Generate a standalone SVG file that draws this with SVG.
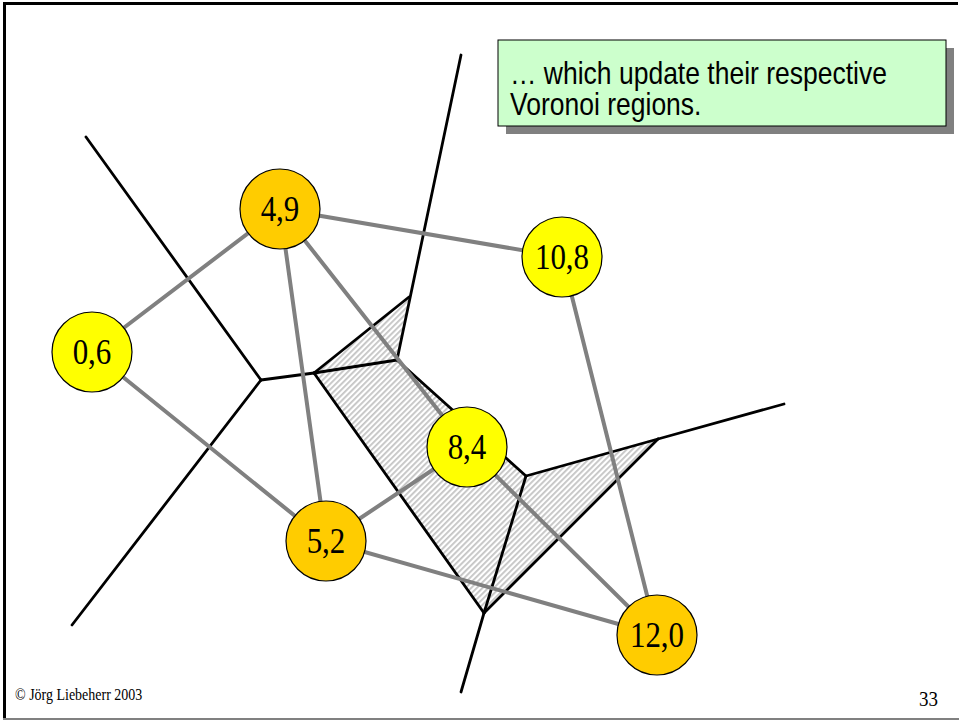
<svg xmlns="http://www.w3.org/2000/svg" width="959" height="720" viewBox="0 0 959 720">
  <defs>
    <pattern id="hatch" width="4" height="4" patternUnits="userSpaceOnUse" patternTransform="rotate(45)">
      <rect width="4" height="4" fill="#ffffff"/>
      <rect width="1.8" height="4" fill="#c4c4c4"/>
    </pattern>
  </defs>
  <style>
    .edge { stroke: #808080; stroke-width: 4; fill: none; stroke-linecap: round; }
    .vor { stroke: #000000; stroke-width: 2.8; fill: none; stroke-linecap: round; stroke-linejoin: round; }
    .site circle { stroke: #000000; stroke-width: 1.2; }
    .yellow { fill: #ffff00; }
    .orange { fill: #ffcc00; }
    .lbl { font-family: "Liberation Serif", "Times New Roman", serif; font-size: 31px; fill: #000000; text-anchor: middle; }
    .note { font-family: "Liberation Sans", Arial, sans-serif; font-size: 26.5px; fill: #000000; }
    .foot { font-family: "Liberation Serif", "Times New Roman", serif; fill: #000000; }
  </style>

  <rect x="0" y="0" width="959" height="720" fill="#ffffff"/>

  <!-- slide frame -->
  <line x1="4.5" y1="2" x2="4.5" y2="720" stroke="#000000" stroke-width="3"/>
  <line x1="3" y1="3.5" x2="958" y2="3.5" stroke="#000000" stroke-width="3"/>
  <line x1="3" y1="719" x2="959" y2="719" stroke="#808080" stroke-width="2"/>

  <!-- updated Voronoi cells (hatched) -->
  <polygon id="region" points="409,297 314,373 484,613 658,439 526,476 397,360" fill="url(#hatch)"/>

  <g id="connectors">
    <!-- Voronoi edges -->
    <g id="voronoi">
      <line class="vor" x1="86" y1="137" x2="261" y2="380"/>
      <line class="vor" x1="261" y1="380" x2="72" y2="625"/>
      <line class="vor" x1="261" y1="380" x2="314" y2="373"/>
      <line class="vor" x1="461" y1="55" x2="397" y2="360"/>
      <line class="vor" x1="314" y1="373" x2="397" y2="360"/>
      <line class="vor" x1="397" y1="360" x2="526" y2="476"/>
      <line class="vor" x1="409" y1="297" x2="314" y2="373"/>
      <line class="vor" x1="314" y1="373" x2="484" y2="613"/>
      <line class="vor" x1="484" y1="613" x2="658" y2="439"/>
      <line class="vor" x1="658" y1="439" x2="784" y2="404"/>
      <line class="vor" x1="526" y1="476" x2="658" y2="439"/>
      <line class="vor" x1="526" y1="476" x2="484" y2="613"/>
      <line class="vor" x1="484" y1="613" x2="461" y2="692"/>
    </g>
    <!-- neighbour links -->
    <g id="links">
      <line class="edge" x1="92" y1="352" x2="280" y2="209"/>
      <line class="edge" x1="92" y1="352" x2="326" y2="541"/>
      <line class="edge" x1="280" y1="209" x2="562" y2="257"/>
      <line class="edge" x1="280" y1="209" x2="326" y2="541"/>
      <line class="edge" x1="280" y1="209" x2="467" y2="447"/>
      <line class="edge" x1="467" y1="447" x2="326" y2="541"/>
      <line class="edge" x1="467" y1="447" x2="657" y2="635"/>
      <line class="edge" x1="326" y1="541" x2="657" y2="635"/>
      <line class="edge" x1="562" y1="257" x2="657" y2="635"/>
    </g>
  </g>

  <!-- sites; labels are set slightly tall (scaled 1.15 vertically) -->
  <g id="n06" class="site">
    <circle class="yellow" cx="92" cy="352" r="40"/>
    <text class="lbl" transform="translate(92 364) scale(1 1.15)">0,6</text>
  </g>
  <g id="n49" class="site">
    <circle class="orange" cx="280" cy="209" r="40"/>
    <text class="lbl" transform="translate(280 221) scale(1 1.15)">4,9</text>
  </g>
  <g id="n108" class="site">
    <circle class="yellow" cx="562" cy="257" r="40"/>
    <text class="lbl" transform="translate(562 269) scale(1 1.15)">10,8</text>
  </g>
  <g id="n84" class="site">
    <circle class="yellow" cx="467" cy="447" r="40"/>
    <text class="lbl" transform="translate(467 459) scale(1 1.15)">8,4</text>
  </g>
  <g id="n52" class="site">
    <circle class="orange" cx="326" cy="541" r="40"/>
    <text class="lbl" transform="translate(326 553) scale(1 1.15)">5,2</text>
  </g>
  <g id="n120" class="site">
    <circle class="orange" cx="657" cy="635" r="40"/>
    <text class="lbl" transform="translate(657 647) scale(1 1.15)">12,0</text>
  </g>

  <!-- callout -->
  <g id="callout">
    <rect x="506" y="48" width="448" height="86" fill="#808080"/>
    <rect x="498" y="40" width="448" height="86" fill="#ccffcc" stroke="#000000" stroke-width="1"/>
    <text class="note" transform="translate(510 84) scale(1 1.15)">… which update their respective</text>
    <text class="note" transform="translate(510 115) scale(1 1.15)">Voronoi regions.</text>
  </g>

  <!-- footer -->
  <text class="foot" transform="translate(15 700) scale(1 1.15)" font-size="14">© Jörg Liebeherr 2003</text>
  <text class="foot" transform="translate(919 706) scale(1 1.15)" font-size="19">33</text>
</svg>
